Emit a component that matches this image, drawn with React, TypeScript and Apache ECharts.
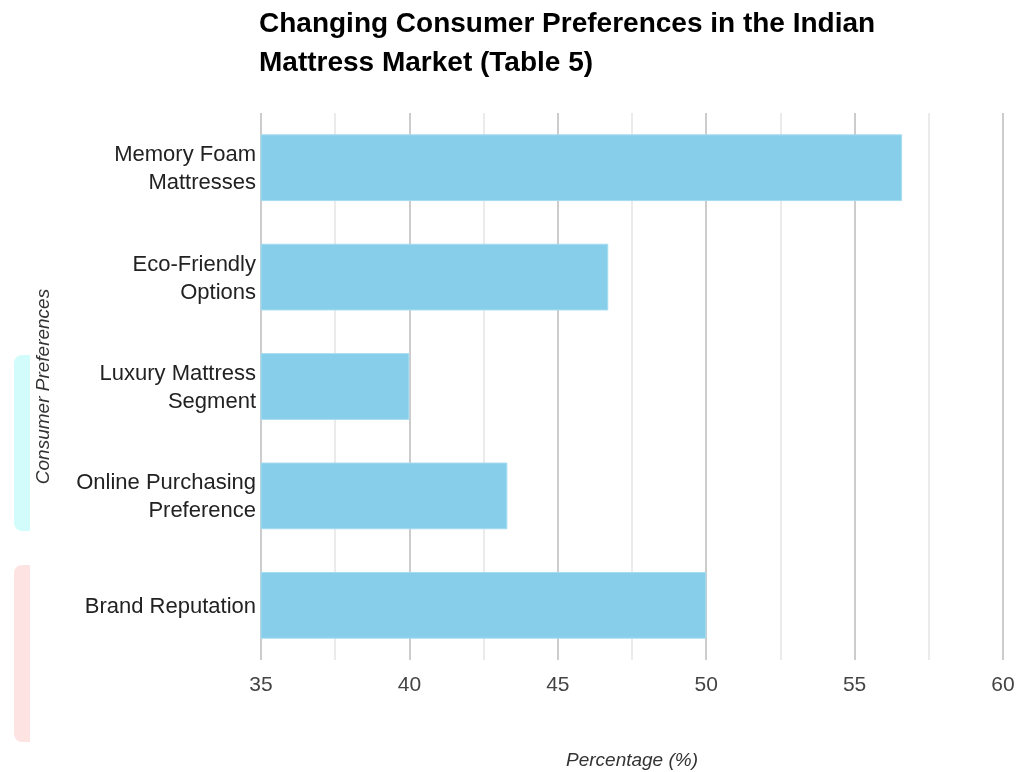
import React, { useEffect, useRef } from "react";
import * as echarts from "echarts";

const categories = [
  "Memory Foam\nMattresses",
  "Eco-Friendly\nOptions",
  "Luxury Mattress\nSegment",
  "Online Purchasing\nPreference",
  "Brand Reputation",
];
const values = [56.6, 46.7, 40.0, 43.3, 50.0];
const xTicks = [35, 40, 45, 50, 55, 60];

export default function App() {
  const ref = useRef<HTMLDivElement>(null);
  useEffect(() => {
    if (!ref.current) return;
    const chart = echarts.init(ref.current, undefined, { renderer: "svg" });
    const font = "'Liberation Sans', Arial, sans-serif";
    chart.setOption({
      animation: false,
      textStyle: { fontFamily: font },
      title: {
        text: "Changing Consumer Preferences in the Indian\nMattress Market (Table 5)",
        left: 259,
        top: 3,
        padding: 0,
        textStyle: {
          fontFamily: font,
          fontSize: 28,
          fontWeight: "bold",
          color: "#000",
          lineHeight: 39,
        },
      },
      graphic: [
        {
          type: "rect",
          left: 14,
          top: 355,
          shape: { width: 16, height: 176, r: [8, 0, 0, 8] },
          style: { fill: "#D2FCFC" },
        },
        {
          type: "rect",
          left: 14,
          top: 565,
          shape: { width: 16, height: 177, r: [8, 0, 0, 8] },
          style: { fill: "#FDE4E2" },
        },
      ],
      grid: {
        left: 261,
        top: 113,
        width: 742,
        height: 547,
        containLabel: false,
        outerBoundsMode: "none",
      },
      xAxis: {
        type: "value",
        min: xTicks[0],
        max: xTicks[xTicks.length - 1],
        interval: 5,
        name: "Percentage (%)",
        nameLocation: "middle",
        nameGap: 90,
        nameTextStyle: { fontStyle: "italic", fontSize: 19, color: "#333", fontFamily: font },
        axisLine: { show: false },
        axisTick: { show: false },
        axisLabel: { fontSize: 21, color: "#444", margin: 13, fontFamily: font },
        splitLine: { show: true, lineStyle: { color: "#cccccc", width: 2 } },
        minorTick: { show: false, splitNumber: 2 },
        minorSplitLine: { show: true, lineStyle: { color: "#ebebeb", width: 2 } },
      },
      yAxis: {
        type: "category",
        data: categories,
        inverse: true,
        name: "Consumer Preferences",
        nameLocation: "middle",
        nameGap: 209,
        nameRotate: 90,
        nameTextStyle: { fontStyle: "italic", fontSize: 19, color: "#333", fontFamily: font },
        axisLine: { show: false },
        axisTick: { show: false },
        axisLabel: { fontSize: 22, color: "#222", margin: 5, lineHeight: 28, fontFamily: font },
        splitLine: { show: false },
      },
      series: [
        {
          type: "bar",
          data: values,
          barWidth: "61%",
          itemStyle: { color: "#87CEEB", borderColor: "#A6DCF0", borderWidth: 1 },
        },
      ],
    });
    return () => chart.dispose();
  }, []);
  return (
    <div
      ref={ref}
      style={{ position: "fixed", left: 0, top: 0, width: 1016, height: 772 }}
    />
  );
}
